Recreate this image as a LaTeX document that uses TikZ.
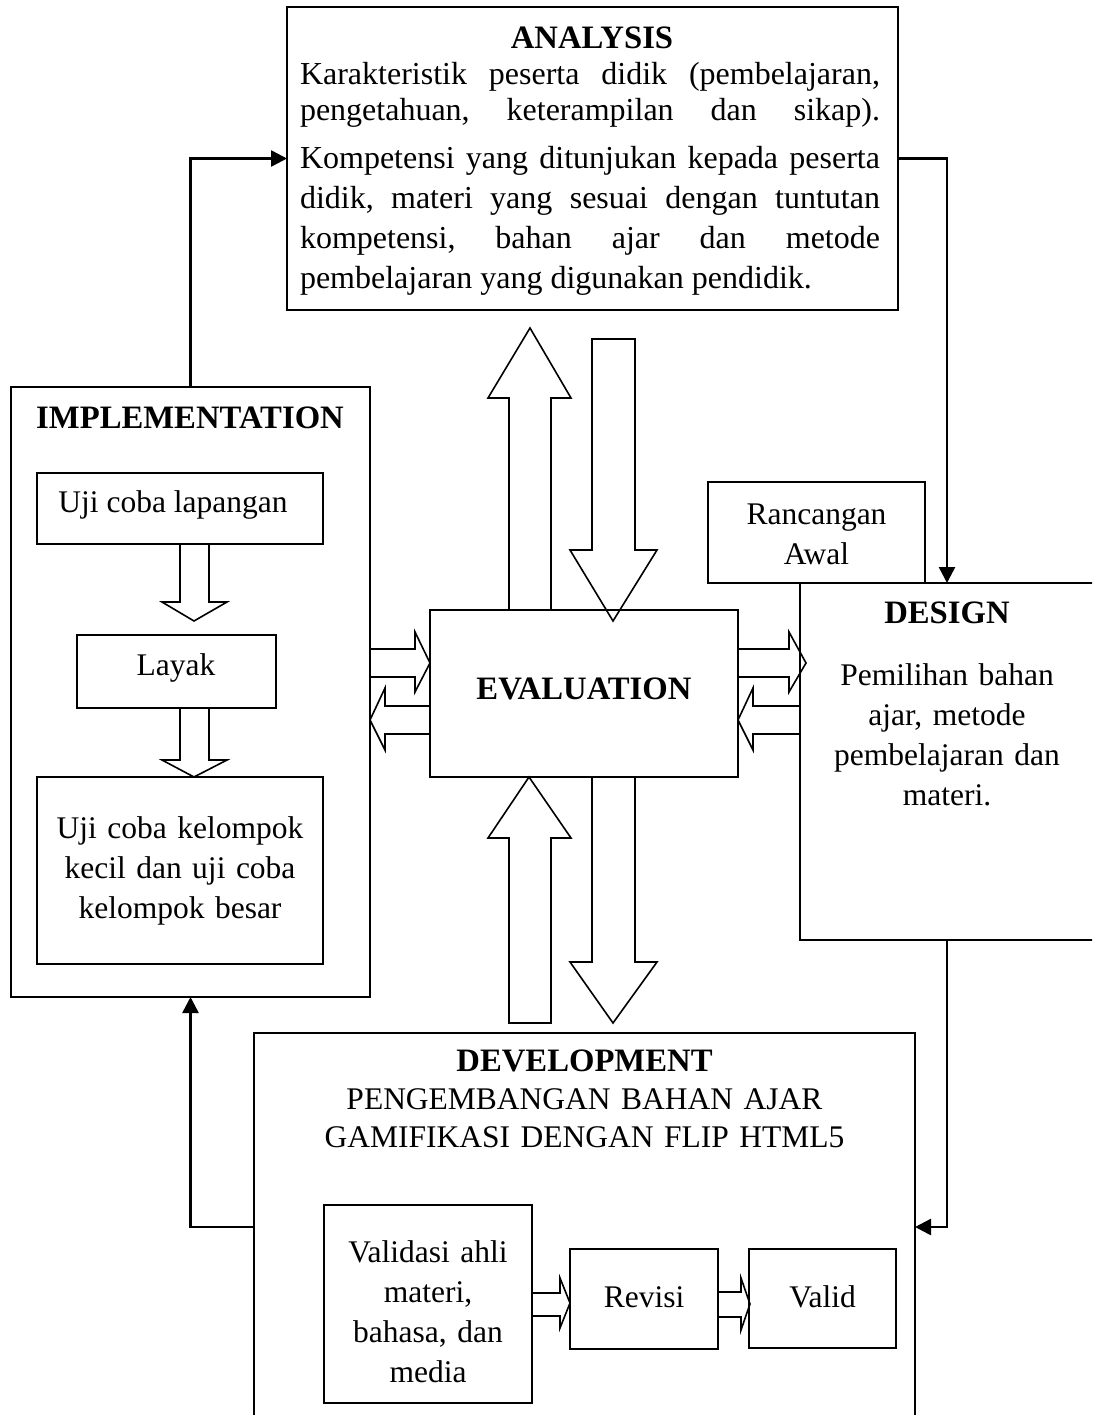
\documentclass[tikz,border=0pt]{standalone}
\usepackage{fontspec}
\setmainfont{Liberation Serif}
\usetikzlibrary{arrows.meta}
\tolerance=10000
\hbadness=10000
\hyphenpenalty=10000
\frenchspacing
\begin{document}
\begin{tikzpicture}[x=1pt,y=-1pt,
  box/.style={draw, line width=1.8pt, inner sep=0pt, outer sep=0pt, anchor=north west},
  conn/.style={line width=2.6pt, -{Triangle[length=16pt,width=16pt]}},
  blk/.style={draw, line width=1.6pt, line join=miter},
  txt/.style={inner sep=0pt, outer sep=0pt, anchor=base, align=center, font=\fontsize{31.5}{40}\selectfont},
  ttl/.style={txt, font=\fontsize{32.7}{40}\selectfont\bfseries},
  para/.style={txt, anchor=base west, text width=580pt, align=justify},
]
\useasboundingbox (0,0) rectangle (1092,1415);
\fill[white] (0,0) rectangle (1092,1415);
\clip (0,0) rectangle (1092,1415);

% ---------- boxes ----------
\node[box, minimum width=611pt, minimum height=303pt] (analysis) at (287,7) {};
\node[box, minimum width=359pt, minimum height=610pt] (impl) at (11,387) {};
\node[box, minimum width=286pt, minimum height=71pt] (uji1) at (37,473) {};
\node[box, minimum width=199pt, minimum height=73pt] (layak) at (77,635) {};
\node[box, minimum width=286pt, minimum height=187pt] (uji2) at (37,777) {};
\node[box, minimum width=308pt, minimum height=167pt] (eval) at (430,610) {};
\node[box, minimum width=217pt, minimum height=101pt] (ranc) at (708,482) {};
\node[box, minimum width=294pt, minimum height=357pt] (design) at (800,583) {};
\node[box, minimum width=661pt, minimum height=388pt] (dev) at (254,1033) {};
\node[box, minimum width=208pt, minimum height=198pt] (validasi) at (324,1205) {};
\node[box, minimum width=148pt, minimum height=100pt] (revisi) at (570,1249) {};
\node[box, minimum width=147pt, minimum height=99pt] (valid) at (749,1249) {};

% ---------- texts ----------
\node[ttl] (analysisT) at (592,49) {ANALYSIS};
\node[para, font=\fontsize{32}{36}\selectfont] (analysisP1) at (300,85)
  {Karakteristik peserta didik (pembelajaran,\linebreak pengetahuan, keterampilan dan sikap).\linebreak};
\node[para, font=\fontsize{32}{40}\selectfont] (analysisP2) at (300,169)
  {Kompetensi yang ditunjukan kepada peserta\linebreak didik, materi yang sesuai dengan tuntutan\linebreak kompetensi, bahan ajar dan metode\linebreak pembelajaran yang digunakan pendidik.};

\node[ttl] (implT) at (190,428) {IMPLEMENTATION};
\node[txt] (uji1T) at (173,512) {Uji coba lapangan};
\node[txt] (layakT) at (176,675) {Layak};
\node[txt, text width=280pt] (uji2T) at (180,838) {Uji coba kelompok\\kecil dan uji coba\\kelompok besar};

\node[ttl] (evalT) at (584,699) {EVALUATION};
\node[txt, text width=210pt] (rancT) at (816.5,524) {Rancangan\\Awal};
\node[ttl] (designT) at (947,623) {DESIGN};
\node[txt, text width=280pt] (designP) at (947,685) {Pemilihan bahan\\ajar, metode\\pembelajaran dan\\materi.};

\node[txt, text width=640pt, font=\fontsize{31.5}{38}\selectfont] (devT) at (584.5,1071)
  {{\fontsize{32.7}{38}\selectfont\bfseries DEVELOPMENT}\\PENGEMBANGAN BAHAN AJAR\\GAMIFIKASI DENGAN FLIP HTML5};
\node[txt, text width=200pt] (validasiT) at (428,1262) {Validasi ahli\\materi,\\bahasa, dan\\media};
\node[txt] (revisiT) at (644,1307) {Revisi};
\node[txt] (validT) at (822.5,1307) {Valid};

% ---------- block arrows ----------
% above EVALUATION
\draw[blk] (509,610) -- (509,398) -- (488,398) -- (530,328) -- (571,398) -- (551,398) -- (551,610);
\draw[blk] (592,339) -- (635,339) -- (635,550) -- (657,550) -- (613,621) -- (570,550) -- (592,550) -- cycle;
% below EVALUATION
\draw[blk] (509,1023) -- (509,838) -- (488,838) -- (529,777) -- (571,838) -- (551,838) -- (551,1023) -- cycle;
\draw[blk] (592,777) -- (592,962) -- (570,962) -- (613,1023) -- (657,962) -- (635,962) -- (635,777);
% left of EVALUATION
\draw[blk] (370,649) -- (415,649) -- (415,632) -- (430,663) -- (415,692) -- (415,677) -- (370,677);
\draw[blk] (430,706) -- (385,706) -- (385,688) -- (370,720) -- (385,750) -- (385,734) -- (430,734);
% right of EVALUATION
\draw[blk] (738,649) -- (789,649) -- (789,632) -- (806,663) -- (789,692) -- (789,677) -- (738,677);
\draw[blk] (799,706) -- (753,706) -- (753,688) -- (738,720) -- (753,750) -- (753,734) -- (799,734);
% inside IMPLEMENTATION
\draw[blk] (180,544) -- (180,602) -- (162,602) -- (194,621) -- (227,602) -- (209,602) -- (209,544);
\draw[blk] (180,708) -- (180,760) -- (162,760) -- (194,777) -- (227,760) -- (209,760) -- (209,708);
% inside DEVELOPMENT
\draw[blk] (532,1293) -- (560,1293) -- (560,1278) -- (570,1303) -- (560,1328) -- (560,1316) -- (532,1316);
\draw[blk] (718,1292) -- (741,1292) -- (741,1278) -- (750,1304) -- (741,1330) -- (741,1317) -- (718,1317);

% ---------- connectors ----------
\draw[conn] (impl.north) |- (analysis.west);
\draw[conn] (analysis.east) -| (design.north);
\draw[conn] (design.south) |- (dev.east);
\draw[conn] (dev.west) -| (impl.south);
\end{tikzpicture}
\end{document}
